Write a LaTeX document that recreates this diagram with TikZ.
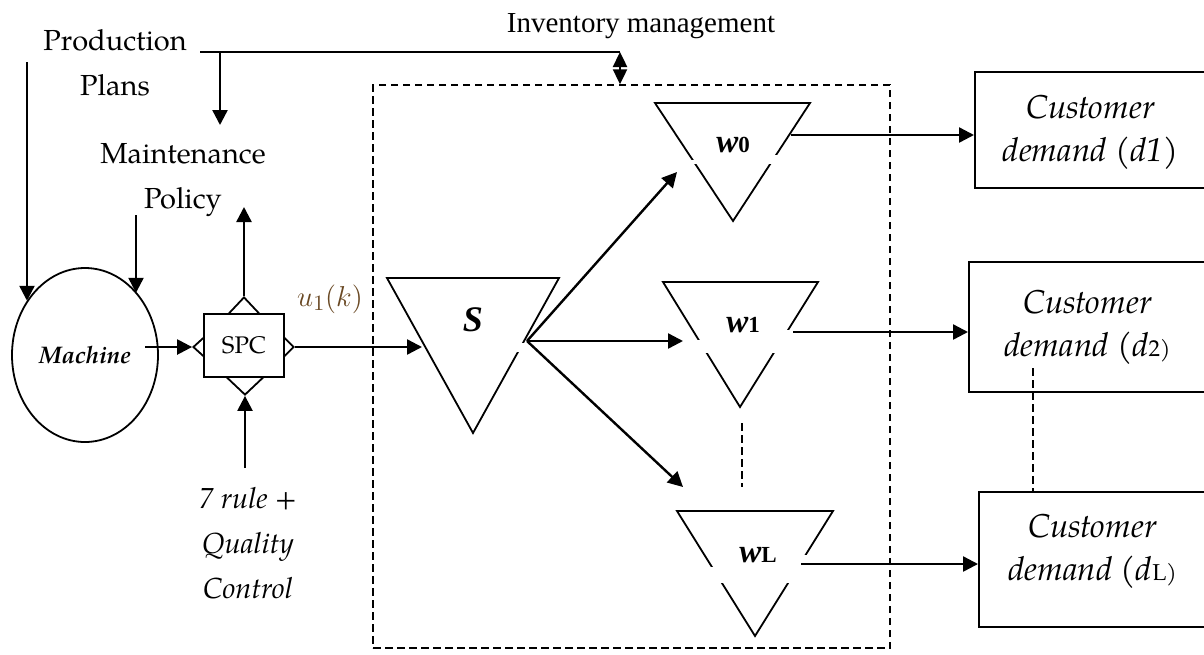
\documentclass[tikz,border=0pt]{standalone}
\usepackage{fontspec}
\setmainfont{TeX Gyre Pagella}
\newfontfamily\tnr{Liberation Serif}
\usetikzlibrary{shapes.geometric,arrows.meta,calc}
\definecolor{ucol}{RGB}{105,72,35}
\tikzset{
  arr/.style={line width=1.2pt,-{Triangle[length=7.5pt,width=7.5pt]}},
  dbl/.style={line width=1.2pt,{Triangle[length=7.5pt,width=7pt]}-{Triangle[length=7.5pt,width=7pt]}},
  ln/.style={line width=1.2pt},
  tri/.style={line width=0.9pt,line join=miter},
  dsh/.style={line width=0.75pt,dash pattern=on 3.75pt off 2.25pt},
  cbox/.style={draw,line width=1pt,inner sep=0pt,align=center,font=\fontsize{16.5}{21.5}\selectfont\itshape},
  lbl/.style={inner sep=0pt,align=center,font=\fontsize{14.5}{22.5}\selectfont},
  gapfill/.style={fill=white,draw=none},
  dia/.style={diamond,draw,line width=0.9pt,inner sep=0pt,fill=white},
  wlab/.style={inner sep=0pt,font=\fontsize{16.5}{18}\selectfont\tnr\bfseries\itshape},
}
\newcommand{\smallsub}[1]{{\fontsize{11.5}{12}\selectfont\upshape #1}}
\begin{document}
\begin{tikzpicture}[x=0.5pt,y=-0.5pt]
\useasboundingbox (0,0) rectangle (1204,654);

% dashed inventory box
\node[draw,dsh,minimum width=258.5pt,minimum height=281.5pt,inner sep=0pt] (invbox) at (631.5,366.5) {};

% texts
\node[lbl,anchor=north] (prod) at (115,29) {Production\\Plans};
\node[lbl,anchor=north] (maint) at (183,143) {Maintenance\\Policy};
\node[inner sep=0pt,anchor=base,font=\fontsize{14.5}{17}\selectfont\tnr] (inv) at (641,32) {Inventory management};
\node[lbl,anchor=north,font=\fontsize{14.5}{22.5}\selectfont\itshape] (qc) at (248,487) {7 rule +\\Quality\\Control};
\node[inner sep=0pt,text=ucol,font=\fontsize{15}{18}\selectfont] (u) at (330,299) {$u_1(k)$};

% machine
\node[ellipse,draw,line width=0.9pt,minimum width=73pt,minimum height=87pt,inner sep=0pt,
      font=\fontsize{12}{14}\selectfont\bfseries\itshape] (machine) at (85,355) {Machine};

% SPC with diamonds
\node[dia,minimum width=16pt,minimum height=17pt] (dt) at (244,314) {};
\node[dia,minimum width=19pt,minimum height=18pt] (db) at (245,377) {};
\node[dia,minimum width=11pt,minimum height=10pt] (dl) at (204,347) {};
\node[dia,minimum width=10pt,minimum height=10pt] (dr) at (284,347) {};
\node[draw,fill=white,line width=0.9pt,minimum width=40pt,minimum height=31.5pt,inner sep=0pt,
      font=\fontsize{12}{14}\selectfont] (spc) at (244,345.5) {SPC};

% triangles
\draw[tri] (387,278) -- (559,278) -- (473,433) -- cycle;
\draw[tri] (655,103) -- (810,103) -- (733,221) -- cycle;
\draw[tri] (663,282) -- (818,282) -- (740,407) -- cycle;
\draw[tri] (677,511) -- (833,511) -- (755,636) -- cycle;
% gaps in triangle sides
\fill[gapfill] (512,343) rectangle (527,352);
\fill[gapfill] (685,160) rectangle (705,164);
\fill[gapfill] (765,155) rectangle (790,164);
\fill[gapfill] (688,340) rectangle (714,353);
\fill[gapfill] (768,330) rectangle (798,353);
\fill[gapfill] (702,567) rectangle (728,583);
\fill[gapfill] (780,555) rectangle (812,583);

% triangle labels
\node[wlab,font=\fontsize{18}{20}\selectfont\tnr\bfseries\itshape] (S) at (473,320) {S};
\node[wlab] (w0) at (733,145) {w\smallsub{0}};
\node[wlab] (w1) at (743,325) {w\smallsub{1}};
\node[wlab] (wL) at (758,555) {w\smallsub{L}};

% customer boxes
\node[cbox,minimum width=115.5pt,minimum height=58pt,text depth=2pt] (d1) at (1090.5,130) {Customer\\demand (d1)};
\node[cbox,minimum width=118.5pt,minimum height=65pt] (d2) at (1087.5,327) {Customer\\demand (d{\fontsize{11.5}{12}\selectfont\upshape 2)}};
\node[cbox,minimum width=113.5pt,minimum height=67.5pt,text depth=12pt] (dL) at (1092.5,559.5) {Customer\\demand (d{\fontsize{11.5}{12}\selectfont\upshape L)}};

% coordinates
\coordinate (p1) at (27,62);
\coordinate (p2) at (136,215);
\coordinate (pl) at (200,52);
\coordinate (pr) at (620,52);
\coordinate (pm) at (220,52);
\coordinate (mt) at (220,125);
\coordinate (ms) at (145,347);
\coordinate (pt) at (244,207);
\coordinate (qb) at (245,468);
\coordinate (sin) at (422,347);
\coordinate (sout) at (527,341);
\coordinate (w0in) at (677,172);
\coordinate (w1in) at (683,341);
\coordinate (wLin) at (683,487);
\coordinate (w0out) at (791,135);
\coordinate (w1out) at (793,332);
\coordinate (wLout) at (801,564);
\coordinate (v1a) at (742,423);
\coordinate (v1b) at (742,487);
\coordinate (v2a) at (1033,368);

% connectors
\draw[arr] (p1) -- (p1 |- machine.137.6);
\draw[arr] (p2) -- (p2 |- machine.50.6);
\draw[ln] (pl) -- (pr);
\draw[arr] (pm) -- (mt);
\draw[dbl] (pr) -- (pr |- invbox.north);
\draw[arr] (ms) -- (dl.west);
\draw[arr] (dt.north) -- (pt);
\draw[arr] (qb) -- (db.south);
\draw[arr] (dr.east) -- (sin);
\draw[arr] (sout) -- (w0in);
\draw[arr] (sout) -- (w1in);
\draw[arr] (sout) -- (wLin);
\draw[arr] (w0out) -- (w0out -| d1.west);
\draw[arr] (w1out) -- (w1out -| d2.west);
\draw[arr] (wLout) -- (wLout -| dL.west);
\draw[dsh] (v1a) -- (v1b);
\draw[dsh] (v2a) -- (v2a |- dL.north);
\end{tikzpicture}
\end{document}
